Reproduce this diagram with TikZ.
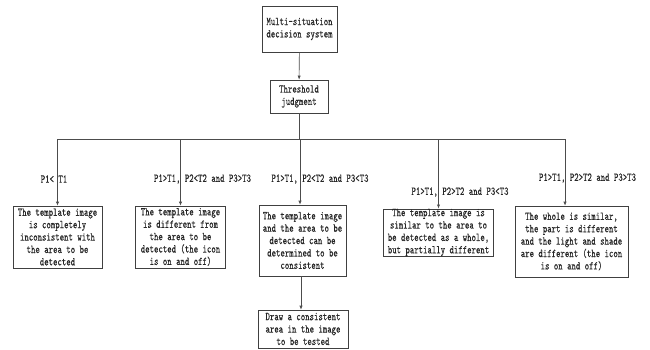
\documentclass[tikz,border=0pt]{standalone}
\usepackage{fontspec}
\newfontfamily\narrowmono[FakeStretch=0.70,FakeBold=0.1]{lmmono10-regular.otf}
\usetikzlibrary{arrows.meta}
\begin{document}
\begin{tikzpicture}[x=1pt,y=-1pt,
	box/.style={draw=black!75,line width=0.6pt,align=center,inner sep=0pt,text=black!85,font=\narrowmono\fontsize{12}{12.4}\selectfont},
	cond/.style={inner sep=0pt,text=black!85,font=\narrowmono\fontsize{12}{12.4}\selectfont},
	arr/.style={draw=black!70,line width=0.6pt,-{Latex[length=4pt,width=3.2pt]}}]
	\useasboundingbox (0,0) rectangle (650,350);
	\node [box,minimum width=75,minimum height=46] (sys) at (299.5,29) {Multi-situation\\decision system};
	\node [box,minimum width=58,minimum height=33] (thr) at (299,96.5) {Threshold\\judgment};
	\node [box,minimum width=89,minimum height=62] (b1) at (57.5,237) {The template image\\is completely\\inconsistent with\\the area to be\\detected};
	\node [box,minimum width=90,minimum height=62] (b2) at (180.5,237) {The template image\\is different from\\the area to be\\detected (the icon\\is on and off)};
	\node [box,minimum width=87,minimum height=71] (b3) at (302.5,240.5) {The template image\\and the area to be\\detected can be\\determined to be\\consistent};
	\node [box,minimum width=110,minimum height=41] (b4) at (438.5,232.5) {The template image is\\similar to the area to\\be detected as a whole,\\but partially different};
	\node [box,minimum width=113,minimum height=71] (b5) at (571.5,241.5) {The whole is similar,\\the part is different\\and the light and shade\\are different (the icon\\is on and off)};
	\node [box,minimum width=90,minimum height=38] (out) at (303,329) {Draw a consistent\\area in the image\\to be tested};
	\node [cond] (c1) at (54,179) {P1< T1};
	\node [cond] (c2) at (202.5,179) {P1>T1, P2<T2 and P3>T3};
	\node [cond] (c3) at (320,179) {P1>T1, P2<T2 and P3<T3};
	\node [cond] (c4) at (460,192) {P1>T1, P2>T2 and P3<T3};
	\node [cond] (c5) at (587.5,178) {P1>T1, P2>T2 and P3>T3};
	\coordinate (split) at (299,139);
	\coordinate (b3in) at ([xshift=-2.5pt]b3.north);
	\coordinate (b3out) at ([xshift=-1.5pt]b3.south);
	\coordinate (b5in) at ([xshift=-6.5pt]b5.north);
	\draw [arr] (sys) -- (thr);
	\draw [draw=black!70,line width=0.6pt] (thr.south) -- (split);
	\foreach \t in {b1.north,b2.north,b3in,b4.north,b5in}
		\draw [arr] (split) -| (\t);
	\draw [arr] (b3out) -- (b3out |- out.north);
\end{tikzpicture}
\end{document}
